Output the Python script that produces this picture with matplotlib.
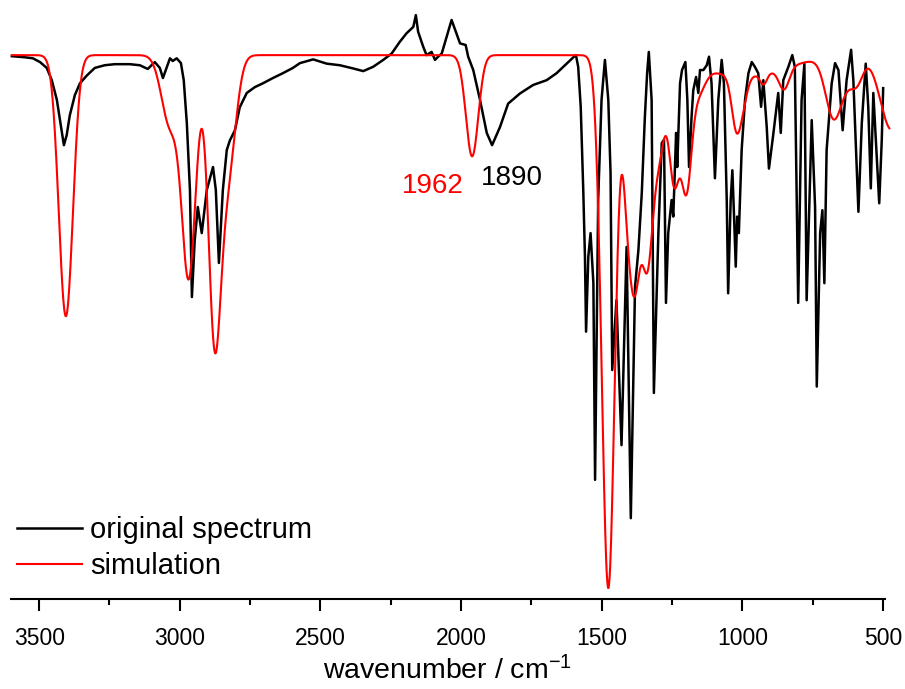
import numpy as np
import matplotlib
matplotlib.use("Agg")
import matplotlib.pyplot as plt
from matplotlib.ticker import MultipleLocator

plt.rcParams["font.family"] = ["Liberation Sans", "DejaVu Sans"]
plt.rcParams["mathtext.fontset"] = "custom"
plt.rcParams["mathtext.rm"] = "Liberation Sans"
plt.rcParams["mathtext.it"] = "Liberation Sans:italic"

# measured spectrum: wavenumber (cm-1) and transmittance (%)
orig_wn = [3597, 3551, 3522, 3497, 3473, 3455, 3437, 3423, 3412, 3402, 3391, 3373,
           3355, 3330, 3302, 3267, 3231, 3178, 3142, 3114, 3089, 3071, 3060, 3050,
           3035, 3025, 3011, 2996, 2986, 2975, 2964, 2957, 2947, 2936, 2922, 2904,
           2882, 2872, 2861, 2847, 2833, 2822, 2804, 2787, 2762, 2733, 2705, 2669,
           2634, 2598, 2573, 2526, 2478, 2431, 2384, 2348, 2313, 2277, 2247, 2218,
           2194, 2170, 2161, 2153, 2135, 2123, 2105, 2093, 2082, 2069, 2055, 2046,
           2034, 2019, 2004, 1984, 1975, 1957, 1933, 1909, 1890, 1862, 1833, 1791,
           1744, 1696, 1661, 1625, 1599, 1592, 1584, 1575, 1566, 1560, 1556, 1548,
           1540, 1530, 1524, 1513, 1501, 1489, 1477, 1469, 1463, 1448, 1430, 1412,
           1397, 1382, 1370, 1358, 1347, 1339, 1333, 1323, 1315, 1299, 1287, 1279,
           1272, 1264, 1252, 1246, 1236, 1232, 1222, 1215, 1203, 1196, 1190, 1181,
           1175, 1165, 1157, 1151, 1139, 1127, 1119, 1110, 1098, 1086, 1074, 1066,
           1056, 1051, 1042, 1036, 1030, 1024, 1019, 1013, 1003, 991, 979, 967,
           956, 944, 934, 926, 914, 906, 890, 873, 864, 855, 837, 823,
           814, 802, 790, 780, 772, 754, 742, 736, 724, 716, 709, 701,
           683, 671, 659, 644, 630, 614, 606, 594, 588, 576, 562, 553,
           544, 535, 523, 514, 505, 500]
orig_t = [99.8, 99.6, 99.4, 98.7, 97.6, 95.3, 91.6, 86.9, 83.1, 85.0, 88.7, 92.5,
          94.7, 96.2, 97.6, 98.1, 98.3, 98.3, 98.1, 97.4, 98.7, 97.6, 95.7, 97.2,
          99.4, 98.9, 99.4, 98.5, 95.3, 87.2, 74.7, 54.6, 65.3, 71.5, 66.6, 74.7,
          79.0, 74.7, 61.0, 74.7, 82.2, 84.0, 85.9, 90.2, 92.9, 94.0, 94.7, 95.7,
          96.6, 97.6, 98.5, 99.2, 98.4, 98.1, 97.5, 97.0, 97.8, 99.1, 100.3, 102.5,
          104.1, 105.3, 107.5, 104.4, 101.6, 100.0, 100.6, 99.1, 99.7, 100.3, 102.8, 104.4,
          106.6, 104.4, 102.2, 101.9, 99.7, 97.2, 91.6, 85.4, 83.1, 86.5, 90.9, 92.8,
          94.4, 95.3, 96.6, 98.4, 99.7, 100.0, 97.8, 90.3, 74.7, 62.2, 48.1, 62.2,
          66.6, 57.2, 20.3, 72.8, 91.6, 99.1, 91.6, 77.9, 40.9, 54.0, 26.8, 64.0,
          13.1, 56.5, 63.4, 74.1, 88.4, 96.6, 100.6, 91.6, 36.6, 66.6, 83.5, 84.1,
          53.5, 66.6, 72.8, 69.7, 85.4, 79.0, 94.7, 97.2, 98.7, 91.6, 79.0, 88.4,
          93.4, 95.9, 92.9, 97.2, 97.2, 98.1, 99.7, 94.7, 76.9, 91.6, 99.1, 94.7,
          72.8, 55.3, 72.8, 78.4, 69.7, 60.3, 69.7, 66.6, 82.2, 91.6, 96.6, 98.7,
          97.8, 96.6, 90.3, 95.3, 86.6, 78.7, 85.4, 92.9, 85.4, 95.3, 97.8, 100.0,
          97.8, 53.5, 91.6, 98.4, 54.0, 87.8, 71.5, 37.8, 66.6, 70.9, 57.2, 82.2,
          94.7, 98.5, 97.2, 85.9, 95.3, 101.0, 95.3, 79.0, 70.6, 87.2, 98.4, 90.3,
          75.0, 92.9, 80.9, 72.2, 84.1, 93.8]

# simulated bands: position (cm-1), depth (%), gaussian width (cm-1)
sim_pos = [3405, 3035, 2968, 2877, 2830, 1961, 1477, 1412, 1384, 1338, 1295, 1243,
           1200, 1160, 1000, 1021, 995, 925, 852, 677, 620, 590, 470]
sim_depth = [49, 13, 41, 50, 22, 19, 100, 15, 40, 36, 16, 22,
             22, 5, 4, 10, 3, 2, 4, 11, 4, 3, 14]
sim_width = [25, 30, 25, 22, 28, 22, 23, 15, 20, 20, 20, 18,
             18, 25, 150, 17, 15, 12, 18, 28, 30, 20, 40]

sim_wn = np.linspace(3597, 478, 3000)
sim_t = np.full_like(sim_wn, 100.0)
for p, d, w in zip(sim_pos, sim_depth, sim_width):
    sim_t -= d * np.exp(-0.5 * ((sim_wn - p) / w) ** 2)

fig = plt.figure(figsize=(9.05, 6.89), dpi=100)
ax = fig.add_axes([0.01215, 0.1299, 0.96575, 0.8628])

ax.plot(orig_wn, orig_t, color="black", lw=1.8, clip_on=False, label="original spectrum")
ax.plot(sim_wn, sim_t, color="red", lw=1.5, clip_on=False, label="simulation")

ax.set_xlim(3600, 493.5)
ax.set_ylim(-2.16, 109.4)

ax.text(2102, 74.1, "1962", color="red", fontsize=20, ha="center", va="baseline")
ax.text(1821, 75.6, "1890", color="black", fontsize=20, ha="center", va="baseline")

for side in ["top", "left", "right"]:
    ax.spines[side].set_visible(False)
ax.spines["bottom"].set_linewidth(1.5)
ax.yaxis.set_visible(False)
ax.patch.set_alpha(0)

ax.xaxis.set_major_locator(MultipleLocator(500))
ax.xaxis.set_minor_locator(MultipleLocator(250))
ax.tick_params(axis="x", which="major", length=8.5, width=1.5, direction="out",
               labelsize=16.5, pad=11)
ax.tick_params(axis="x", which="minor", length=4.5, width=1.5, direction="out")

fig.text(0.4950, 10 / 689, r"wavenumber / cm$^{-1}$", fontsize=20.5,
         ha="center", va="baseline")

ax.legend(loc="center left", bbox_to_anchor=(16.7 / 905, 1 - 548 / 689),
          bbox_transform=fig.transFigure, frameon=False, fontsize=21,
          handlelength=2.24, handletextpad=0.29, labelspacing=0.28,
          borderpad=0, borderaxespad=0)

fig.savefig("out.png", dpi=100)
